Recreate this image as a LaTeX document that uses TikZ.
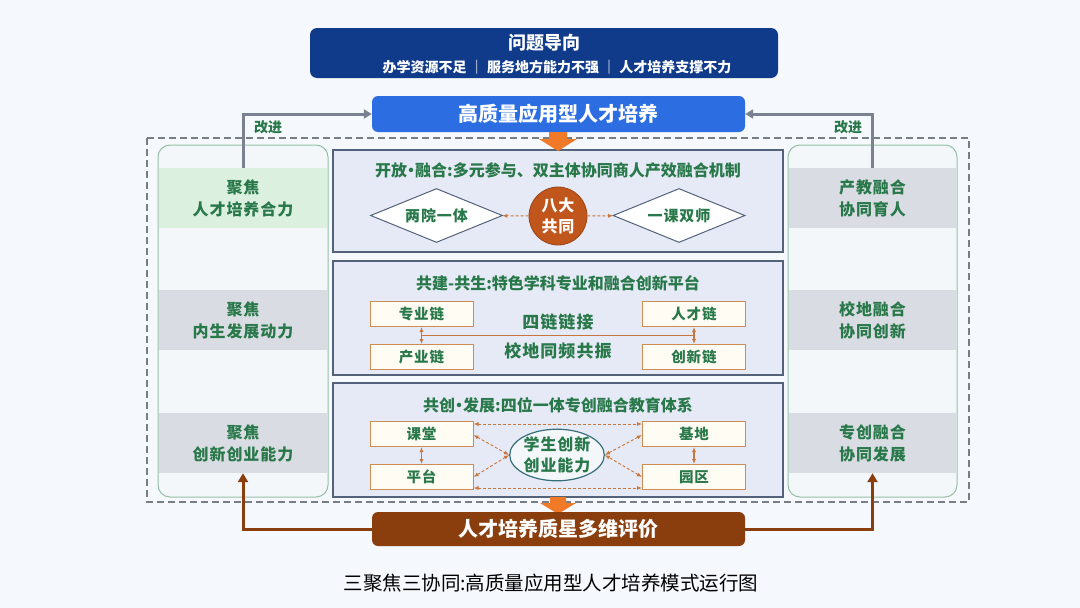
\documentclass[tikz,border=0pt]{standalone}
\usepackage{fontspec}
\setmainfont{Noto Sans CJK SC}
\newfontfamily\spacedcjk[LetterSpace=6]{Noto Sans CJK SC}
\usetikzlibrary{shapes.geometric,arrows.meta,calc}
\definecolor{bgc}{RGB}{245,248,252}
\definecolor{navy}{RGB}{16,58,138}
\definecolor{bluebox}{RGB}{44,110,226}
\definecolor{gtext}{RGB}{40,120,74}
\definecolor{pborder}{RGB}{84,98,122}
\definecolor{pfill}{RGB}{230,234,246}
\definecolor{sideborder}{RGB}{150,192,166}
\definecolor{sidefill}{RGB}{243,247,250}
\definecolor{gband}{RGB}{220,240,224}
\definecolor{grayband}{RGB}{217,220,226}
\definecolor{chev}{RGB}{240,122,40}
\definecolor{circfill}{RGB}{192,86,28}
\definecolor{boxborder}{RGB}{204,140,84}
\definecolor{boxfill}{RGB}{255,252,243}
\definecolor{brownc}{RGB}{138,62,14}
\definecolor{arrgray}{RGB}{122,130,144}
\definecolor{odash}{RGB}{200,118,60}
\definecolor{ellb}{RGB}{52,110,120}
\definecolor{frameg}{RGB}{120,126,134}
\begin{document}
\begin{tikzpicture}[x=1pt,y=-1pt,
  panel/.style={draw=pborder,line width=1.2pt,fill=pfill,minimum width=450pt},
  ptitle/.style={text=gtext,font=\fontsize{16}{18}\selectfont\bfseries},
  sidepanel/.style={draw=sideborder,line width=1pt,fill=sidefill,rounded corners=12pt,minimum height=352pt},
  band/.style={minimum height=60pt,align=center,text=gtext,font=\spacedcjk\fontsize{16}{22}\selectfont\bfseries,inner sep=0pt},
  chain/.style={draw=boxborder,line width=1pt,fill=boxfill,minimum width=103pt,minimum height=25pt,text=gtext,font=\spacedcjk\fontsize{14.5}{16}\selectfont\bfseries,inner sep=0pt},
  dia/.style={diamond,draw=pborder,line width=1pt,fill=white,aspect=2.4,minimum width=132pt,minimum height=54pt,text=gtext,font=\spacedcjk\fontsize{15}{16}\selectfont\bfseries,inner sep=0pt},
  odarrow/.style={draw=odash,line width=0.9pt,dash pattern=on 3pt off 2pt,{Latex[length=5pt,width=4pt]}-{Latex[length=5pt,width=4pt]}},
  odsingle/.style={draw=odash,line width=0.9pt,dash pattern=on 3pt off 2pt,-{Latex[length=5pt,width=4pt]}},
  solidarrow/.style={draw=odash,line width=1.1pt,{Latex[length=5pt,width=4pt]}-{Latex[length=5pt,width=4pt]}},
  midtext/.style={text=gtext,font=\spacedcjk\fontsize{17}{18}\selectfont\bfseries},
]
\fill[bgc] (0,0) rectangle (1080,608);
\useasboundingbox (0,0) rectangle (1080,608);

% top boxes
\node[fill=navy,rounded corners=7pt,minimum width=468pt,minimum height=50pt] (top) at (544,53) {};
\node[text=white,font=\fontsize{18}{20}\selectfont\bfseries] (toptitle) at (544,43) {问题导向};
\node[text=white,font=\fontsize{14}{15}\selectfont\bfseries] (topsub) at (557,67) {办学资源不足 ｜ 服务地方能力不强 ｜ 人才培养支撑不力};
\node[fill=bluebox,rounded corners=6pt,minimum width=373pt,minimum height=36pt,text=white,font=\fontsize{20}{22}\selectfont\bfseries] (goal) at (558.5,114) {高质量应用型人才培养};

% dashed frame
\draw[frameg,line width=1.3pt,dash pattern=on 7pt off 4pt] (147,138) rectangle (969,502);

% side panels
\node[sidepanel,minimum width=170pt] (lp) at (243,321) {};
\node[sidepanel,minimum width=169pt] (rp) at (872.5,321) {};
\node[band,fill=gband,minimum width=168pt] (l1) at (243,198) {聚焦\\人才培养合力};
\node[band,fill=grayband,minimum width=168pt] (l2) at (243,320) {聚焦\\内生发展动力};
\node[band,fill=grayband,minimum width=168pt] (l3) at (243,443) {聚焦\\创新创业能力};
\node[band,fill=grayband,minimum width=167pt] (r1) at (872.5,198) {产教融合\\协同育人};
\node[band,fill=grayband,minimum width=167pt] (r2) at (872.5,320) {校地融合\\协同创新};
\node[band,fill=grayband,minimum width=167pt] (r3) at (872.5,443) {专创融合\\协同发展};

% middle panels
\node[panel,minimum height=102pt] (p1) at (558,201) {};
\node[panel,minimum height=114pt] (p2) at (558,318) {};
\node[panel,minimum height=114pt] (p3) at (558,440) {};
\node[ptitle] (t1) at (558,170) {开放\kern-4pt·\kern-4pt融合:多元参与、双主体协同商人产效融合机制};
\node[ptitle] (t2) at (558,283) {共建-共生:特色学科专业和融合创新平台};
\node[ptitle] (t3) at (558,405) {共创\kern-4pt·\kern-4pt发展:四位一体专创融合教育体系};

% chevrons
\fill[chev] (549,132) -- (567,132) -- (567,139) -- (577,139) -- (558,151) -- (539,139) -- (549,139) -- cycle;

% panel 1
\node[dia] (d1) at (436.5,215.5) {两院一体};
\node[dia] (d2) at (679,215.5) {一课双师};
\node[circle,fill=circfill,draw=circfill!80!black,line width=0.8pt,minimum size=58pt,inner sep=0pt,align=center,text=white,font=\spacedcjk\fontsize{16}{21}\selectfont\bfseries] (c) at (558,216) {八大\\共同};
\draw[odsingle] (c) -- (d1);
\draw[odsingle] (c) -- (d2);

% panel 2
\node[chain] (b1) at (421.5,314) {专业链};
\node[chain] (b2) at (694,314) {人才链};
\node[chain] (b3) at (421.5,357) {产业链};
\node[chain] (b4) at (694,357) {创新链};
\draw[solidarrow] (b1.south) -- coordinate[pos=0.5] (m1) (b3.north);
\draw[solidarrow] (b2.south) -- coordinate[pos=0.5] (m2) (b4.north);
\draw[odash,line width=1.1pt] (m1) -- (m2);
\node[midtext] (s1) at (558,322) {四链链接};
\node[midtext] (s2) at (558,351) {校地同频共振};

% panel 3
\node[chain] (k1) at (421.5,434) {课堂};
\node[chain] (k2) at (694,434) {基地};
\node[chain] (k3) at (421.5,477) {平台};
\node[chain] (k4) at (694,477) {园区};
\node[ellipse,draw=ellb,line width=1.2pt,fill=sidefill,minimum width=90pt,minimum height=46pt,inner sep=0pt,align=center,text=gtext,font=\spacedcjk\fontsize{16}{21}\selectfont\bfseries] (e) at (557,455) {学生创新\\创业能力};
\draw[odarrow] ([yshift=-3pt]k1.north east) -- ([yshift=-3pt]k2.north west);
\draw[odarrow] ([yshift=2pt]k3.south east) -- ([yshift=2pt]k4.south west);
\draw[odarrow] ([yshift=-1pt]k1.east) -- (e.west);
\draw[odarrow] (k3.east) -- (e.west);
\draw[odarrow] ([yshift=-1pt]k2.west) -- (e.east);
\draw[odarrow] (k4.west) -- (e.east);
\draw[solidarrow] (k1.south) -- (k3.north);
\draw[solidarrow] (k2.south) -- (k4.north);

% bottom
\fill[chev] (550,497) -- (566,497) -- (566,503) -- (576,503) -- (558,514) -- (540,503) -- (550,503) -- cycle;
\node[fill=brownc,rounded corners=6pt,minimum width=373pt,minimum height=34pt,text=white,font=\fontsize{20}{22}\selectfont\bfseries] (eval) at (558.5,529) {人才培养质星多维评价};

% feedback arrows
\draw[brownc,line width=3pt,-{Triangle[length=9pt,width=10pt]}] (eval.west) -| (l3.south);
\draw[brownc,line width=3pt,-{Triangle[length=9pt,width=10pt]}] (eval.east) -| (r3.south);
\draw[arrgray,line width=3pt,-{Triangle[length=8pt,width=9pt]}] (l1.north) |- (goal.west);
\draw[arrgray,line width=3pt,-{Triangle[length=8pt,width=9pt]}] (r1.north) |- (goal.east);
\node[text=gtext,font=\fontsize{14}{16}\selectfont\bfseries] (g1) at (268,127) {改进};
\node[text=gtext,font=\fontsize{14}{16}\selectfont\bfseries] (g2) at (848,127) {改进};

% caption
\node[text=black,font=\fontsize{19.5}{22}\selectfont] (cap) at (551,583) {三聚焦三协同:高质量应用型人才培养模式运行图};
\end{tikzpicture}
\end{document}
